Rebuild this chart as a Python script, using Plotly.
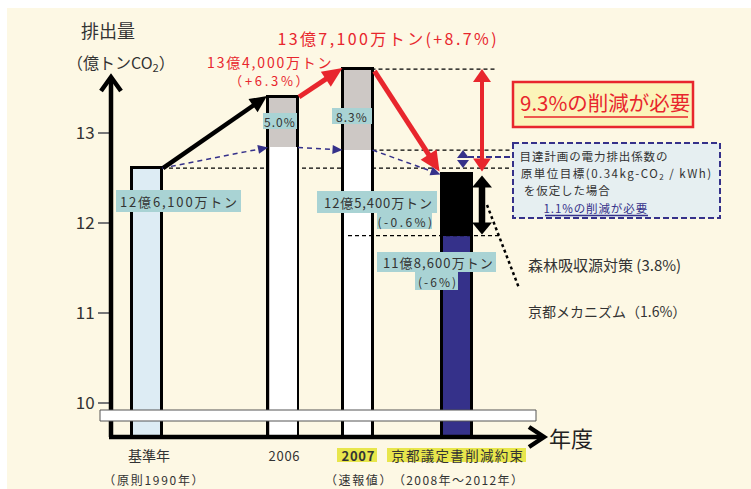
import json
import math
import plotly.graph_objects as go

# ---------------- data ----------------
categories = ["基準年", "2006", "2007", "京都議定書削減約束"]
sub_labels = ["（原則1990年）", "", "（速報値）", "（2008年〜2012年）"]
totals = [12.61, 13.40, 13.71, 12.54]          # 億トンCO2 (bar tops)
lower_part = [None, 12.84, 12.81, 11.86]       # white part (2006/2007), navy part (target)
total_labels = ["12億6,100万トン", "13億4,000万トン", "13億7,100万トン", "12億5,400万トン"]
change_labels = ["", "（+6.3%）", "(+8.7%)", "(-0.6%)"]
share_labels = ["", "5.0%", "8.3%", ""]
target_label = "11億8,600万トン"
target_change = "(-6%)"
y_ticks = [10, 11, 12, 13]

# ---------------- layout helpers ----------------
W, H = 751, 489
PXU = 90.0            # pixels per 1億トン
Y12 = 223.0           # pixel row of the 12 tick
FONT = "Noto Sans CJK JP"


def yv(px):
    """pixel row -> data value"""
    return 12 - (px - Y12) / PXU


def py(v):
    """data value -> pixel row"""
    return Y12 - (v - 12) * PXU


BASE = yv(437)
bar_x = [147, 283, 357.5, 456.5]
bar_w = 30
top_colors = ["#ddecf4", "#cdc8c5", "#cdc8c5", "#000000"]
low_colors = ["#ffffff", "#ffffff", "#35318a"]
RED = "#e8262d"
NAVY = "#35318a"
TXT = "#333333"
TEAL = "#a9d3d4"

fig = go.Figure()
fig.add_trace(go.Bar(
    x=bar_x, y=[t - BASE for t in totals], base=BASE, width=bar_w,
    marker=dict(color=top_colors, line=dict(color="black", width=3)),
    hoverinfo="skip", showlegend=False))
fig.add_trace(go.Bar(
    x=bar_x[1:], y=[v - BASE for v in lower_part[1:]], base=BASE, width=bar_w - 3,
    marker=dict(color=low_colors, line=dict(width=0)),
    hoverinfo="skip", showlegend=False))

shapes = []
ann = []
spacing = {}


def rect(x0, y0, x1, y1, fill, line_color=None, lw=0, dash=None, layer="above"):
    shapes.append(dict(type="rect", xref="x", yref="y", x0=x0, x1=x1, y0=yv(y0), y1=yv(y1),
                       fillcolor=fill, layer=layer,
                       line=dict(color=line_color or fill, width=lw, dash=dash) if lw else dict(width=0)))


def hline(x0, x1, v, color="black", lw=1.3, dash="4px,3px", layer="above"):
    shapes.append(dict(type="line", xref="x", yref="y", x0=x0, x1=x1, y0=v, y1=v, layer=layer,
                       line=dict(color=color, width=lw, dash=dash)))


def seg_px(x0, y0, x1, y1, color, lw, dash=None, layer="above"):
    shapes.append(dict(type="line", xref="x", yref="y", x0=x0, x1=x1, y0=yv(y0), y1=yv(y1),
                       layer=layer, line=dict(color=color, width=lw, dash=dash)))


def path(pts, color, lw=0, fill=None, closed=False):
    d = "M " + " L ".join(f"{x:.2f},{yv(y):.5f}" for x, y in pts) + (" Z" if closed else "")
    shapes.append(dict(type="path", xref="x", yref="y", path=d, layer="above",
                       fillcolor=fill if fill else "rgba(0,0,0,0)",
                       line=dict(color=color, width=lw) if lw else dict(width=0)))


def head(tip, ux, uy, hl, hw, color):
    bx, by = tip[0] - ux * hl, tip[1] - uy * hl
    nx, ny = -uy, ux
    path([tip, (bx + nx * hw / 2, by + ny * hw / 2), (bx - nx * hw / 2, by - ny * hw / 2)],
         color, fill=color, closed=True)


def arrow_px(x0, y0, x1, y1, color, lw, hl, hw, both=False, dash=None):
    """arrow between two pixel points (x in axis units = px, y in pixel rows)"""
    L = math.hypot(x1 - x0, y1 - y0)
    ux, uy = (x1 - x0) / L, (y1 - y0) / L
    sx, sy = (x0 + ux * hl * 0.8, y0 + uy * hl * 0.8) if both else (x0, y0)
    ex, ey = x1 - ux * hl * 0.8, y1 - uy * hl * 0.8
    seg_px(sx, sy, ex, ey, color, lw, dash=dash)
    head((x1, y1), ux, uy, hl, hw, color)
    if both:
        head((x0, y0), -ux, -uy, hl, hw, color)


def text(x, y, s, size, color=TXT, anchor="center", ls=None, pad=1, align="center"):
    ann.append(dict(x=x, y=yv(y), xref="x", yref="y", text=s, showarrow=False,
                    xanchor=anchor, yanchor="middle", borderpad=pad, align=align,
                    font=dict(family=FONT, size=size, color=color)))
    if ls:
        spacing[len(ann) - 1] = ls


# cream panel
shapes.append(dict(type="rect", xref="paper", yref="paper", x0=7 / W, x1=1, y0=0, y1=1 - 8 / H,
                   fillcolor="#fdf8e4", line=dict(width=0), layer="below"))

# dashed guide lines (behind bars)
hline(bar_x[0] + bar_w / 2, 512, totals[0], layer="below")
hline(bar_x[2] + bar_w / 2, 512, lower_part[2], layer="below")
hline(bar_x[2], 497, totals[2], layer="below")
hline(348, 502, lower_part[3], layer="above")

# blue dashed path (electricity factor case)
blue_segments = [(bar_x[0] + 15, totals[0], bar_x[1] - 15, lower_part[1]),
                 (bar_x[1] + 15, lower_part[1], bar_x[2] - 15, lower_part[2]),
                 (bar_x[2] + 15, lower_part[2], bar_x[3] - 16, totals[3])]
for x0, v0, x1, v1 in blue_segments:
    arrow_px(x0, py(v0), x1, py(v1), NAVY, 1.5, 10, 9, dash="5px,4px")
hline(468, 513, yv(157), color=NAVY, lw=2, dash="6px,3px")

# small blue double triangles
path([(457, 158), (463, 150), (469, 158)], NAVY, fill=NAVY, closed=True)
path([(457, 160), (463, 168), (469, 160)], NAVY, fill=NAVY, closed=True)

# arrows between bars
arrow_px(bar_x[0] + 16, py(totals[0]), bar_x[1] - 16, py(totals[1]) - 1, "black", 4.5, 17, 16)
arrow_px(bar_x[1] + 16, py(totals[1]), bar_x[2] - 15, py(totals[2]) - 1, RED, 5, 20, 18)
arrow_px(bar_x[2] + 17, py(totals[2]) + 2, bar_x[3] - 17, py(totals[3]) - 3, RED, 5, 20, 19)
arrow_px(482, py(totals[3]) - 3, 482, py(totals[2]), RED, 4, 13, 18, both=True)
arrow_px(482, py(lower_part[3]) - 1, 482, py(totals[3]) + 1, "black", 6.5, 12, 20, both=True)

# dotted leader
seg_px(487, 205, 519, 288, "black", 2.5, dash="dot")

# axes (drawn as shapes)
seg_px(111, 437, 111, 78, "black", 4.5)
path([(101, 91), (111, 77), (121, 91)], "black", lw=4.5)
seg_px(109, 437, 541, 437, "black", 4.5)
path([(529, 427), (544, 437), (529, 447)], "black", lw=4.5)
# axis break band
rect(100, 410, 536, 421, "#ffffff", "#555555", 1)

# teal value boxes
rect(116, 190, 241, 212, TEAL)
rect(263, 113, 297, 129, TEAL)
rect(332, 108, 372, 124, TEAL)
rect(317, 191, 437, 213, TEAL)
rect(377, 213, 432, 229, TEAL)
rect(377, 252, 496, 272, TEAL)
rect(415, 272, 458, 290, TEAL)

text(179, 201, total_labels[0], 13, ls=1.8)
text(280, 121, share_labels[1], 12, ls=1)
text(352, 116, share_labels[2], 12, ls=1)
text(378, 202, total_labels[3], 13, ls=0.9)
text(406, 221, change_labels[3], 12, ls=2.4)
text(438, 262, target_label, 13, ls=1.1)
text(438, 281, target_change, 12, ls=2)

# red labels
text(270, 70.5, total_labels[1] + "<br><span style='font-size:13px'>" + change_labels[1] + "</span>",
     14, RED, ls=[1.8, 2.7], pad=0)
text(388, 38, total_labels[2] + change_labels[2], 16, RED, ls=2.4)

# 9.3% box
rect(513, 82, 693, 127, "#fbf4b9", RED, 2.5)
text(605, 102, "9.3%の削減が必要", 20.5, RED)
seg_px(524, 117, 688, 117, RED, 1.5)

# blue dashed note box (separate lines, slightly tracked)
rect(513, 143, 720, 218, "#e6eff1", NAVY, 2, dash="6px,3px")
text(594, 156, "目達計画の電力排出係数の", 11.5, ls=0.9, pad=0)
text(616, 173, "原単位目標(0.34kg-CO<sub>2</sub> / kWh)", 11.5, ls=1.5, pad=0)
text(567, 190, "を仮定した場合", 11.5, ls=0.9, pad=0)
text(596, 207.5, "1.1%の削減が必要", 11.5, NAVY, ls=0.9, pad=0)
seg_px(545, 215.5, 648, 215.5, NAVY, 1.5)

# right side labels
text(526, 264, "森林吸収源対策 (3.8%)", 15, anchor="left")
text(526, 311, "京都メカニズム（1.6%）", 14, anchor="left")

# axis titles
text(108, 30, "排出量", 18)
text(121, 62, "（億トンCO<sub>2</sub>）", 16)
text(547, 437, "年度", 22, "#222222", anchor="left")

# category labels
rect(337, 448, 377, 462, "#e8e64c")
rect(387, 448, 526, 462, "#e8e64c")
cat_x = [149, 284.5, 358.5, 457.5]
cat_style = [(14, None, None), (13, 0.7, None), (13, 0.8, "b"), (13.5, 1.3, None)]
for i, c in enumerate(categories):
    size, ls, b = cat_style[i]
    s = f"<b>{c}</b>" if b else c
    text(cat_x[i], 455, s, size, ls=ls, pad=0)
sub_x = [154, None, 359, 458]
sub_ls = [1.7, None, 1.6, 1.4]
for i, s in enumerate(sub_labels):
    if s:
        text(sub_x[i], 479, s, 12, ls=sub_ls[i], pad=0)

fig.update_layout(
    width=W, height=H, autosize=False,
    margin=dict(l=0, r=0, t=0, b=0, pad=0),
    paper_bgcolor="white", plot_bgcolor="white",
    barmode="overlay", bargap=0,
    xaxis=dict(range=[0, W], domain=[0, 1], visible=False, fixedrange=True),
    yaxis=dict(range=[yv(H), yv(0)], domain=[0, 1], anchor="free", position=109 / W,
               tickvals=y_ticks, ticks="outside", ticklen=11, tickwidth=1.5, tickcolor="#777777",
               showline=False, showgrid=False, zeroline=False, automargin=False,
               tickfont=dict(family=FONT, size=17, color=TXT), fixedrange=True),
    shapes=shapes, annotations=ann, showlegend=False,
)

js = """
var LS = %s;
function applyLS() {
  var groups = document.querySelectorAll('g.annotation');
  groups.forEach(function(g, i) {
    var idx = g.getAttribute('data-index');
    if (idx === null) idx = String(i);
    var v = LS[idx];
    if (v === undefined) return;
    var t = g.querySelector('text.annotation-text');
    if (!t) return;
    if (Array.isArray(v)) {
      var lines = t.querySelectorAll('tspan.line');
      if (lines.length === 0) { t.style.letterSpacing = v[0] + 'px'; return; }
      lines.forEach(function(ln, j) {
        if (v[j]) ln.style.letterSpacing = v[j] + 'px';
      });
    } else {
      t.style.letterSpacing = v + 'px';
    }
  });
}
applyLS();
""" % json.dumps({str(k): v for k, v in spacing.items()})

fig.write_html("out.html", post_script=js)
